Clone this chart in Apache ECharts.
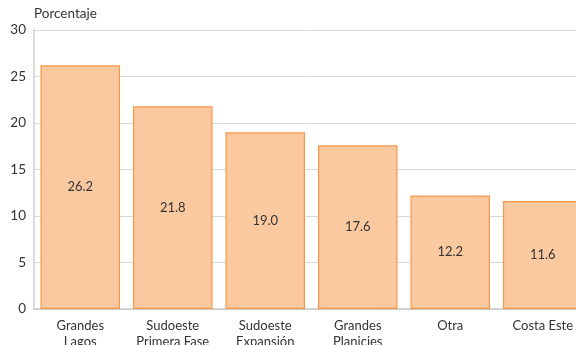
<!DOCTYPE html>
<html>
<head>
<meta charset="utf-8">
<script src="https://cdn.jsdelivr.net/npm/echarts@6/dist/echarts.min.js"></script>
<style>
  html, body { margin: 0; padding: 0; background: #fff; }
  #chart { width: 576px; height: 345px; }
</style>
</head>
<body>
<div id="chart"></div>
<script>
var categories = ['Grandes\nLagos', 'Sudoeste\nPrimera Fase', 'Sudoeste\nExpansión', 'Grandes\nPlanicies', 'Otra', 'Costa Este'];
var values = [26.2, 21.8, 19.0, 17.6, 12.2, 11.6];
var yTicks = [0, 5, 10, 15, 20, 25, 30];

var myChart = echarts.init(document.getElementById('chart'));
myChart.setOption({
    animation: false,
    textStyle: { fontFamily: 'Lato, "Open Sans", sans-serif' },
    grid: { left: 34, top: 30, width: 555, bottom: 36, containLabel: false, outerBoundsMode: 'none' },
    xAxis: {
        type: 'category',
        data: categories,
        axisTick: { show: false },
        axisLine: { lineStyle: { color: '#c8c8c8', width: 1.5 } },
        axisLabel: { color: '#333', fontSize: 13, lineHeight: 16, margin: 9, interval: 0 }
    },
    yAxis: {
        type: 'value',
        min: yTicks[0],
        max: yTicks[yTicks.length - 1],
        interval: 5,
        name: 'Porcentaje',
        nameLocation: 'end',
        nameGap: 9,
        nameTextStyle: { color: '#333', fontSize: 13.5, align: 'left', padding: [0, 0, 0, 0] },
        axisLine: { show: true, lineStyle: { color: '#d0d0d0', width: 1.5 } },
        axisTick: { show: false },
        axisLabel: { color: '#333', fontSize: 13.5, margin: 8 },
        splitLine: { lineStyle: { color: '#d9d9d9', width: 1 } }
    },
    series: [{
        type: 'bar',
        data: values,
        barCategoryGap: '14%',
        itemStyle: { color: '#fbc99f', borderColor: '#f79646', borderWidth: 1.2 },
        label: {
            show: true,
            position: 'inside',
            color: '#333',
            fontSize: 13,
            formatter: function (p) { return p.value.toFixed(1); }
        }
    }]
});
</script>
</body>
</html>
